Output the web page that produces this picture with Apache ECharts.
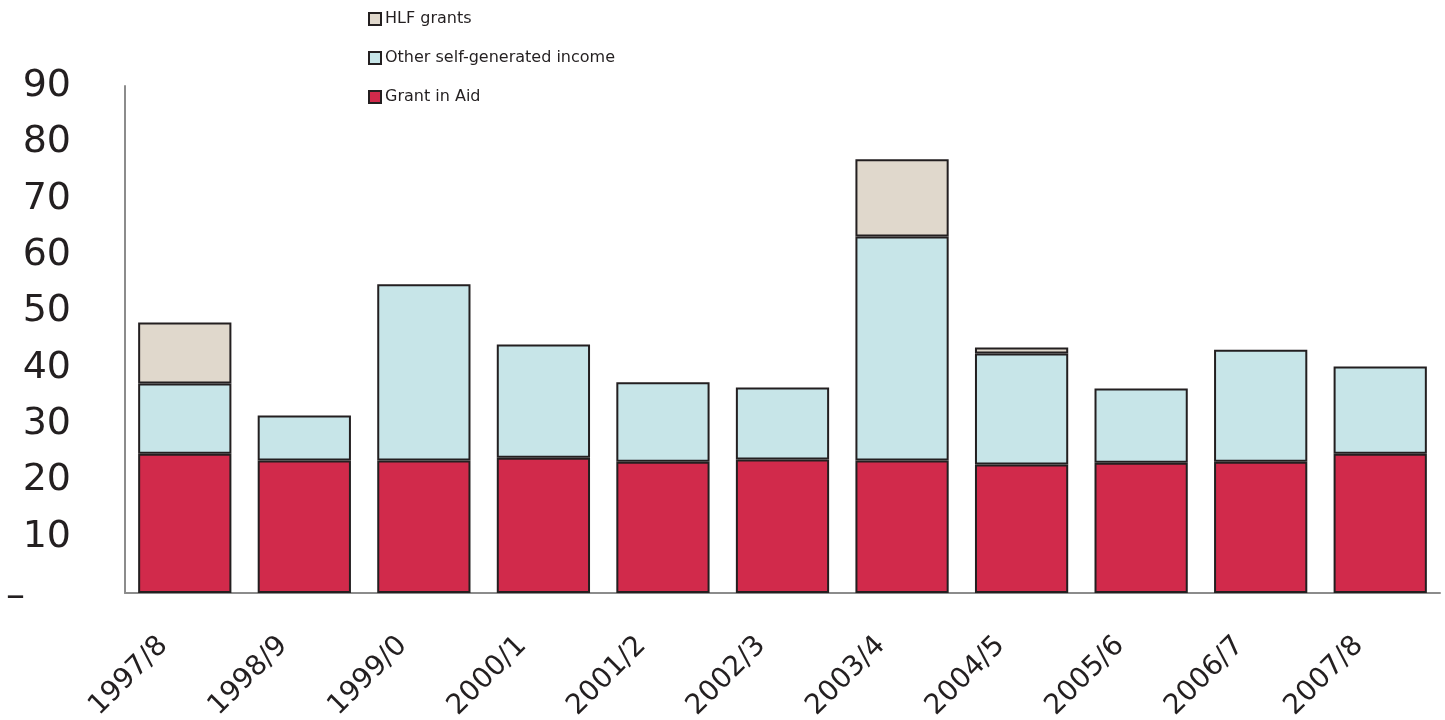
<!DOCTYPE html>
<html>
<head>
<meta charset="utf-8">
<script src="https://cdn.jsdelivr.net/npm/echarts@6/dist/echarts.min.js"></script>
<style>
  html, body { margin: 0; padding: 0; background: #ffffff; }
  #chart { width: 1445px; height: 720px; }
</style>
</head>
<body>
<div id="chart"></div>
<script>
// Funding sources by financial year (£m)
const years = ['1997/8', '1998/9', '1999/0', '2000/1', '2001/2', '2002/3', '2003/4', '2004/5', '2005/6', '2006/7', '2007/8'];
const grantInAid = [24.7, 23.5, 23.5, 24.0, 23.3, 23.7, 23.5, 22.8, 23.1, 23.3, 24.7];
const otherSelfGenerated = [12.5, 8.0, 31.3, 20.1, 14.1, 12.8, 39.8, 19.7, 13.2, 19.9, 15.5];
const hlfGrants = [10.8, null, null, null, null, null, 13.7, 1.1, null, null, null];
const yTicks = { min: 0, max: 90, step: 10 };

const ink = '#231f20';
const fontFamily = '"DejaVu Sans", "Noto Sans", sans-serif';

const barStyle = (color) => ({ color: color, borderColor: ink, borderWidth: 2 });

const chart = echarts.init(document.getElementById('chart'));
chart.setOption({
  animation: false,
  backgroundColor: '#ffffff',
  textStyle: { fontFamily: fontFamily, color: ink },
  grid: { left: 125, right: 5, top: 86, bottom: 127, outerBoundsMode: 'none', containLabel: false },
  legend: {
    orient: 'vertical',
    left: 363,
    top: 6,
    itemGap: 23,
    icon: 'rect',
    itemWidth: 12,
    itemHeight: 12,
    data: ['HLF grants', 'Other self-generated income', 'Grant in Aid'],
    textStyle: { fontSize: 16, color: ink, fontFamily: fontFamily, padding: [0, 0, 0, -1] }
  },
  xAxis: {
    type: 'category',
    data: years,
    axisLine: { show: true, lineStyle: { color: '#8c8c8c', width: 2 } },
    axisTick: { show: false },
    axisLabel: {
      rotate: 45,
      margin: 27,
      padding: [0, 30, 0, 0],
      fontSize: 28,
      color: ink,
      fontFamily: fontFamily
    }
  },
  yAxis: {
    type: 'value',
    min: yTicks.min,
    max: yTicks.max,
    interval: yTicks.step,
    axisLine: { show: true, lineStyle: { color: '#8c8c8c', width: 2 } },
    axisTick: { show: false },
    splitLine: { show: false },
    axisLabel: {
      margin: 54,
      fontSize: 38,
      color: ink,
      fontFamily: fontFamily,
      formatter: (v) => (v === 0 ? '{z|–}' : String(v)),
      rich: { z: { fontSize: 38, color: ink, padding: [8, 46, 0, 0], fontFamily: fontFamily } }
    }
  },
  series: [
    {
      name: 'Grant in Aid',
      type: 'bar',
      stack: 'total',
      barWidth: '78%',
      itemStyle: barStyle('#d12a4b'),
      data: grantInAid
    },
    {
      name: 'Other self-generated income',
      type: 'bar',
      stack: 'total',
      itemStyle: barStyle('#c7e5e8'),
      data: otherSelfGenerated
    },
    {
      name: 'HLF grants',
      type: 'bar',
      stack: 'total',
      itemStyle: barStyle('#e0d8cc'),
      data: hlfGrants
    }
  ]
});
</script>
</body>
</html>
